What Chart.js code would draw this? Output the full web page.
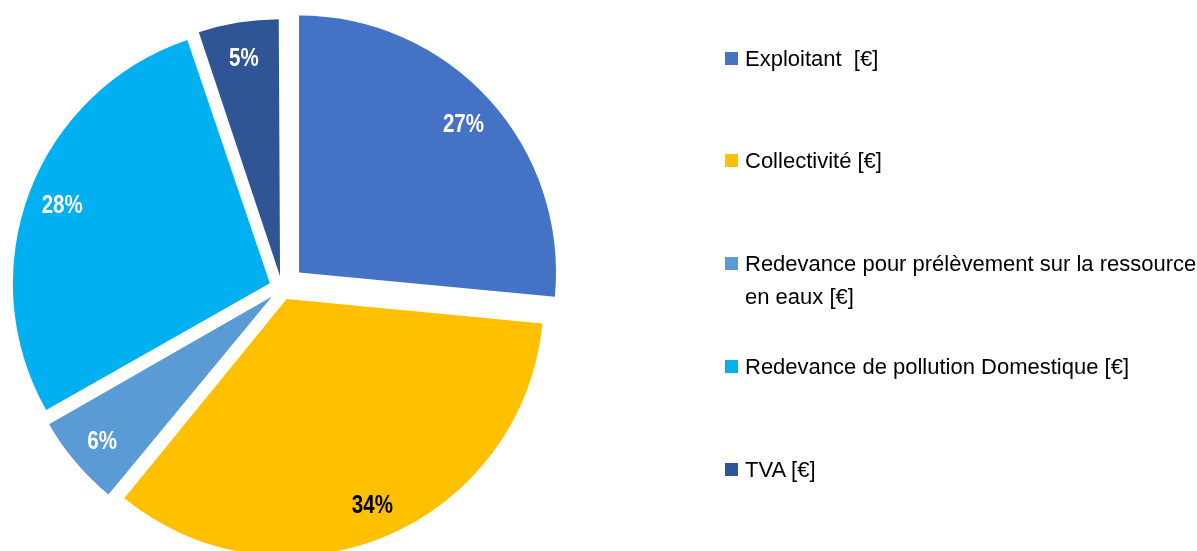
<!DOCTYPE html>
<html>
<head>
<meta charset="utf-8">
<script src="https://cdn.jsdelivr.net/npm/chart.js@4.4.1/dist/chart.umd.min.js"></script>
<style>
  html, body { margin: 0; padding: 0; background: #fff; }
  #wrap { position: relative; width: 1197px; height: 551px; overflow: hidden; }
  #pie { position: absolute; left: 0; top: 0; }
  .item { position: absolute; left: 725px; font: 22px/33px "Liberation Sans", Arial, sans-serif; color: #000; white-space: pre; }
  .item .box { position: absolute; left: 0; top: 10px; width: 13px; height: 13px; }
  .item .txt { margin-left: 20px; }
</style>
</head>
<body>
<div id="wrap">
  <canvas id="pie" width="1197" height="551"></canvas>
  <div id="legend"></div>
</div>
<script>
// data (share of the water bill, %)
const categories = [
  ['Exploitant  [€]'],
  ['Collectivité [€]'],
  ['Redevance pour prélèvement sur la ressource', 'en eaux [€]'],
  ['Redevance de pollution Domestique [€]'],
  ['TVA [€]']
];
const shares = [26.5, 34.4, 5.9, 28.0, 5.2];

const sliceColors = ['#4472C4', '#FFC000', '#5B9BD5', '#00B0F0', '#2F5597'];
const labelColors = ['#ffffff', '#000000', '#ffffff', '#ffffff', '#ffffff'];
const explode = [23, 12, 13, 13, 12]; // px each slice is pulled out

// keep the radius of pulled-out slices constant (chart.js grows small ones)
const keepRadius = {
  id: 'keepRadius',
  beforeDatasetsDraw(chart) {
    const meta = chart.getDatasetMeta(0);
    const base = meta.controller.outerRadius;
    meta.data.forEach(arc => {
      const t = (arc.options.offset || 0) / 4;
      const fix = 1 - Math.sin(Math.min(Math.PI, arc.circumference || 0));
      arc.outerRadius = base - t * fix;
    });
  }
};

const sliceLabels = {
  id: 'sliceLabels',
  afterDatasetsDraw(chart) {
    const ctx = chart.ctx;
    const meta = chart.getDatasetMeta(0);
    const base = meta.controller.outerRadius;
    meta.data.forEach((arc, i) => {
      const mid = (arc.startAngle + arc.endAngle) / 2;
      const d = (arc.options.offset || 0) / 4 + base * 0.865;
      const x = arc.x + Math.cos(mid) * d;
      const y = arc.y + Math.sin(mid) * d;
      ctx.save();
      ctx.translate(x, y);
      ctx.scale(0.82, 1);
      ctx.font = 'bold 25px "Liberation Sans", Arial, sans-serif';
      ctx.textAlign = 'center';
      ctx.textBaseline = 'middle';
      ctx.fillStyle = labelColors[i];
      ctx.fillText(Math.round(shares[i]) + '%', 0, 2);
      ctx.restore();
    });
  }
};

new Chart(document.getElementById('pie'), {
  type: 'pie',
  data: {
    labels: categories.map(c => c.join(' ')),
    datasets: [{
      data: shares,
      backgroundColor: sliceColors,
      borderWidth: 0,
      offset: explode.map(v => v * 4),
      clip: false
    }]
  },
  options: {
    responsive: false,
    animation: false,
    devicePixelRatio: 1,
    radius: 257,
    layout: { padding: { left: 0, top: 25, right: 633, bottom: 0 } },
    plugins: {
      legend: { display: false },
      tooltip: { enabled: false }
    }
  },
  plugins: [keepRadius, sliceLabels]
});

// legend on the right
const legend = document.getElementById('legend');
categories.forEach((lines, i) => {
  const el = document.createElement('div');
  el.className = 'item';
  el.style.top = (58 + i * 102.8 - 16.5) + 'px';
  el.innerHTML = '<span class="box" style="background:' + sliceColors[i] + '"></span>' +
    '<div class="txt">' + lines.join('\n') + '</div>';
  legend.appendChild(el);
});
</script>
</body>
</html>
